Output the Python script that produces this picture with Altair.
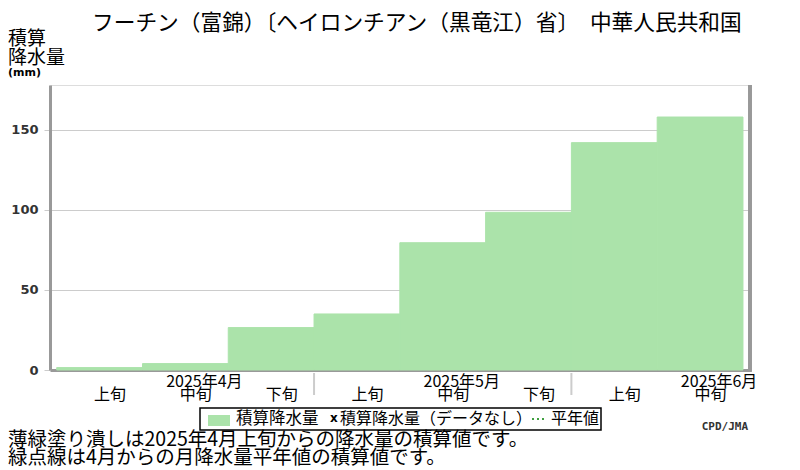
import altair as alt
import pandas as pd

# ---- data ----
dekad_labels = ["上旬", "中旬", "下旬", "上旬", "中旬", "下旬", "上旬", "中旬"]
dekad_index = [0, 1, 2, 3, 4, 5, 6, 7]
precip_cum = [1.5, 4, 26.5, 35, 79.5, 98.5, 142, 158]
month_labels = ["2025年4月", "2025年5月", "2025年6月"]
month_center_dekad = [1, 4, 7]
month_separators = [3, 6]
y_ticks = [0, 50, 100, 150]

title_text = "フーチン（富錦）〔ヘイロンチアン（黒竜江）省〕　中華人民共和国"
note1 = "薄緑塗り潰しは2025年4月上旬からの降水量の積算値です。"
note2 = "緑点線は4月からの月降水量平年値の積算値です。"

W, H = 700, 285
JP = "Noto Sans CJK JP"
GREEN = "#abe3aa"

bars_df = pd.DataFrame({
    "start": dekad_index,
    "end": [i + 1 for i in dekad_index],
    "value": precip_cum,
})
lab_df = pd.DataFrame({"pos": [i + 0.5 for i in dekad_index], "label": dekad_labels})
mon_df = pd.DataFrame({"pos": [i + 0.5 for i in month_center_dekad], "label": month_labels})
sep_df = pd.DataFrame({"pos": month_separators})

xscale = alt.Scale(domain=[-0.078, 8.082], nice=False, zero=False)
yscale = alt.Scale(domain=[0, 178], nice=False)

bars = alt.Chart(bars_df).mark_rect(color=GREEN, stroke=GREEN, strokeWidth=1).encode(
    x=alt.X("start:Q", scale=xscale,
            axis=alt.Axis(labels=False, ticks=False, grid=False, domainColor="#999999",
                          domainWidth=3, title=None)),
    x2="end:Q",
    y=alt.Y("value:Q", scale=yscale,
            axis=alt.Axis(values=y_ticks, grid=True, gridColor="#cccccc", gridWidth=1,
                          domainColor="#999999", domainWidth=3, tickColor="#cccccc",
                          tickSize=6, labelPadding=6, labelFont="DejaVu Sans",
                          labelFontWeight="bold", labelFontSize=13, labelColor="#333333",
                          title=None)),
    y2=alt.datum(0),
)

right_axis = alt.Chart(bars_df).mark_rule(color="#999999", strokeWidth=3).encode(
    x=alt.value(W), y=alt.value(0), y2=alt.value(H + 1.5)
)

dek_text = alt.Chart(lab_df).mark_text(font=JP, fontSize=16, color="black", dx=10.5).encode(
    x=alt.X("pos:Q", scale=xscale), y=alt.value(310), text="label:N"
)
mon_text = alt.Chart(mon_df).mark_text(font=JP, fontSize=16, color="black", dx=19).encode(
    x=alt.X("pos:Q", scale=xscale), y=alt.value(297), text="label:N"
)
seps = alt.Chart(sep_df).mark_rule(color="#cccccc", strokeWidth=2).encode(
    x=alt.X("pos:Q", scale=xscale), y=alt.value(288), y2=alt.value(310)
)

def txt(s, x, y, size, align="left", weight="normal", font=JP, color="black"):
    return alt.Chart(pd.DataFrame({"t": [s]})).mark_text(
        font=font, fontSize=size, align=align, baseline="middle",
        fontWeight=weight, color=color
    ).encode(x=alt.value(x), y=alt.value(y), text="t:N")

title = txt(title_text, 42, -62, 21.7)
yt1 = txt("積算", -42, -46, 19)
yt2 = txt("降水量", -42, -27, 19)
yt3 = txt("(mm)", -42, -12, 11, weight="bold", font="DejaVu Sans")

legend_box = alt.Chart(pd.DataFrame({"a": [0]})).mark_rect(
    fill="white", stroke="black", strokeWidth=1.5
).encode(x=alt.value(150), x2=alt.value(551), y=alt.value(323), y2=alt.value(345))
swatch = alt.Chart(pd.DataFrame({"a": [0]})).mark_rect(color=GREEN).encode(
    x=alt.value(158), x2=alt.value(180), y=alt.value(330), y2=alt.value(341)
)
leg1 = txt("積算降水量", 186, 334, 16.5)
legx = txt("x", 280, 333, 12, weight="bold", font="DejaVu Sans")
leg2 = txt("積算降水量（データなし）", 290, 334, 16)
legline = alt.Chart(pd.DataFrame({"a": [0]})).mark_rule(
    color="#008000", strokeWidth=1.5, strokeDash=[2, 3]
).encode(x=alt.value(482), x2=alt.value(497), y=alt.value(334))
leg3 = txt("平年値", 501, 334, 16)

n1 = txt(note1, -42, 355, 19.5)
n2 = txt(note2, -42, 373, 19.5)
cpd = txt("CPD/JMA", 698, 342, 11, align="right", weight="bold", font="DejaVu Sans Mono",
          color="#333333")

chart = alt.layer(
    bars, right_axis, seps, dek_text, mon_text, title, yt1, yt2, yt3,
    legend_box, swatch, leg1, legx, leg2, legline, leg3, n1, n2, cpd
).properties(
    width=W, height=H,
    autosize=alt.AutoSizeParams(type="none"),
    padding={"left": 42, "top": 77, "right": 40, "bottom": 100},
).configure_view(stroke=None).configure(background="white")

chart.save("out.html", embed_options={"renderer": "svg", "actions": False})
